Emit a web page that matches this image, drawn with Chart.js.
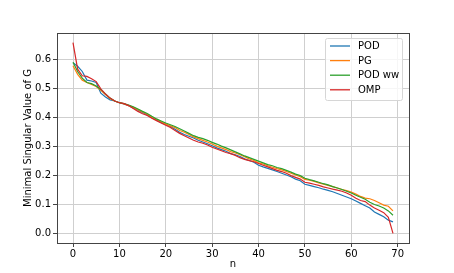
<!DOCTYPE html>
<html>
<head>
<meta charset="utf-8">
<script src="https://cdn.jsdelivr.net/npm/chart.js@4"></script>
<style>
  html, body { margin: 0; padding: 0; background: #fff; }
  #wrap { width: 454px; height: 273px; }
</style>
</head>
<body>
<div id="wrap"><canvas id="chart" width="454" height="273"></canvas></div>
<script>
// values, n = 0..69
const n = [];
for (let i = 0; i < 70; i++) n.push(i);

const pod = [
  0.590, 0.578, 0.560, 0.530, 0.527, 0.522, 0.485, 0.472, 0.462, 0.458,
  0.452, 0.448, 0.442, 0.434, 0.426, 0.418, 0.410, 0.400, 0.392, 0.384,
  0.377, 0.370, 0.360, 0.350, 0.342, 0.336, 0.330, 0.322, 0.316, 0.310,
  0.303, 0.296, 0.290, 0.284, 0.276, 0.272, 0.266, 0.258, 0.252, 0.246,
  0.236, 0.230, 0.225, 0.220, 0.214, 0.208, 0.202, 0.196, 0.188, 0.182,
  0.170, 0.166, 0.162, 0.158, 0.153, 0.149, 0.144, 0.138, 0.132, 0.126,
  0.120, 0.112, 0.104, 0.096, 0.088, 0.074, 0.066, 0.058, 0.046, 0.040
];
const pg = [
  0.580, 0.550, 0.530, 0.522, 0.515, 0.508, 0.495, 0.480, 0.466, 0.458,
  0.452, 0.448, 0.442, 0.436, 0.428, 0.420, 0.412, 0.402, 0.394, 0.386,
  0.378, 0.372, 0.366, 0.356, 0.350, 0.342, 0.334, 0.328, 0.322, 0.316,
  0.309, 0.302, 0.296, 0.290, 0.283, 0.278, 0.272, 0.265, 0.258, 0.252,
  0.244, 0.240, 0.234, 0.229, 0.224, 0.220, 0.214, 0.208, 0.202, 0.196,
  0.187, 0.184, 0.180, 0.175, 0.170, 0.166, 0.162, 0.157, 0.152, 0.148,
  0.143, 0.136, 0.128, 0.122, 0.120, 0.114, 0.106, 0.098, 0.094, 0.078
];
const podWw = [
  0.592, 0.560, 0.537, 0.522, 0.518, 0.510, 0.498, 0.482, 0.468, 0.458,
  0.452, 0.449, 0.444, 0.438, 0.430, 0.422, 0.415, 0.405, 0.396, 0.389,
  0.382, 0.376, 0.370, 0.362, 0.354, 0.346, 0.338, 0.332, 0.328, 0.322,
  0.315, 0.309, 0.302, 0.296, 0.289, 0.282, 0.275, 0.268, 0.262, 0.256,
  0.250, 0.244, 0.238, 0.234, 0.228, 0.224, 0.218, 0.212, 0.205, 0.200,
  0.191, 0.186, 0.182, 0.177, 0.172, 0.168, 0.162, 0.157, 0.152, 0.146,
  0.140, 0.132, 0.125, 0.118, 0.108, 0.100, 0.095, 0.088, 0.078, 0.063
];
const omp = [
  0.660, 0.568, 0.545, 0.543, 0.535, 0.525, 0.500, 0.482, 0.468, 0.458,
  0.452, 0.449, 0.442, 0.432, 0.422, 0.414, 0.408, 0.398, 0.390, 0.382,
  0.374, 0.366, 0.356, 0.346, 0.338, 0.330, 0.322, 0.316, 0.312, 0.306,
  0.298, 0.292, 0.286, 0.280, 0.276, 0.270, 0.262, 0.256, 0.252, 0.248,
  0.242, 0.236, 0.230, 0.224, 0.218, 0.214, 0.208, 0.200, 0.194, 0.188,
  0.177, 0.174, 0.170, 0.166, 0.161, 0.157, 0.153, 0.150, 0.146, 0.140,
  0.132, 0.122, 0.114, 0.110, 0.098, 0.088, 0.080, 0.072, 0.056, 0.000
];

const xTicks = [0, 10, 20, 30, 40, 50, 60, 70];
const yTicks = [0.0, 0.1, 0.2, 0.3, 0.4, 0.5, 0.6];

const seriesNames = ["POD", "PG", "POD ww", "OMP"];
const seriesColors = ["#1f77b4", "#ff7f0e", "#2ca02c", "#d62728"];
const seriesData = [pod, pg, podWw, omp];

const FONT = "'DejaVu Sans', sans-serif";

// frame around the plot + matplotlib style legend
const frameAndLegend = {
  id: "frameAndLegend",
  afterDraw(chart) {
    const ctx = chart.ctx;
    const a = chart.chartArea;
    ctx.save();
    ctx.strokeStyle = "#444";
    ctx.lineWidth = 1;
    ctx.strokeRect(Math.round(a.left) + 0.5, Math.round(a.top) + 0.5,
      Math.round(a.right - a.left), Math.round(a.bottom - a.top));

    // legend box
    const bx = 325.5, by = 38.5, bw = 77, bh = 62;
    ctx.fillStyle = "rgba(255,255,255,0.8)";
    ctx.strokeStyle = "#d6d6d6";
    ctx.beginPath();
    ctx.roundRect(bx, by, bw, bh, 2);
    ctx.fill();
    ctx.stroke();

    ctx.font = "10px " + FONT;
    ctx.textBaseline = "middle";
    ctx.textAlign = "left";
    chart.data.datasets.forEach((ds, i) => {
      const y = 46 + i * 14.6;
      ctx.strokeStyle = ds.borderColor;
      ctx.lineWidth = 1.3;
      ctx.beginPath();
      ctx.moveTo(330, y);
      ctx.lineTo(350, y);
      ctx.stroke();
      ctx.fillStyle = "#000";
      ctx.fillText(ds.label, 358, y + 0.5);
    });
    ctx.restore();
  }
};

new Chart(document.getElementById("chart").getContext("2d"), {
  type: "line",
  data: {
    datasets: seriesNames.map((name, i) => ({
      label: name,
      data: seriesData[i].map((v, k) => ({ x: n[k], y: v })),
      borderColor: seriesColors[i],
      backgroundColor: seriesColors[i],
      borderWidth: 1.2,
      pointRadius: 0,
      tension: 0,
      fill: false,
      order: seriesNames.length - 1 - i,
    })),
  },
  options: {
    responsive: false,
    animation: false,
    devicePixelRatio: 1,
    layout: { padding: { left: 0, top: 33, right: 45, bottom: 0 } },
    plugins: {
      legend: { display: false },
      tooltip: { enabled: false },
    },
    scales: {
      x: {
        type: "linear",
        min: -3.45,
        max: 72.45,
        afterBuildTicks: (scale) => {
          scale.ticks = xTicks.map((v) => ({ value: v }));
        },
        afterFit: (scale) => { scale.height = 30; },
        grid: { color: "#cfcfcf", lineWidth: 1, drawTicks: true, tickLength: 4, tickColor: "#444" },
        border: { display: false },
        ticks: {
          color: "#000",
          font: { family: FONT, size: 10 },
          padding: 1,
          maxRotation: 0,
          callback: (v) => String(v),
        },
        title: {
          display: true,
          text: "n",
          color: "#000",
          font: { family: FONT, size: 10 },
          padding: { top: 0, bottom: 3 },
        },
      },
      y: {
        type: "linear",
        min: -0.033,
        max: 0.693,
        afterBuildTicks: (scale) => {
          scale.ticks = yTicks.map((v) => ({ value: v }));
        },
        afterFit: (scale) => { scale.width = 57; },
        grid: { color: "#cfcfcf", lineWidth: 1, drawTicks: true, tickLength: 4, tickColor: "#444" },
        border: { display: false },
        ticks: {
          color: "#000",
          font: { family: FONT, size: 10 },
          padding: 2,
          callback: (v) => v.toFixed(1),
        },
        title: {
          display: true,
          text: "Minimal Singular Value of G",
          color: "#000",
          font: { family: FONT, size: 10 },
          padding: { top: 22, bottom: 0 },
        },
      },
    },
  },
  plugins: [frameAndLegend],
});
</script>
</body>
</html>
